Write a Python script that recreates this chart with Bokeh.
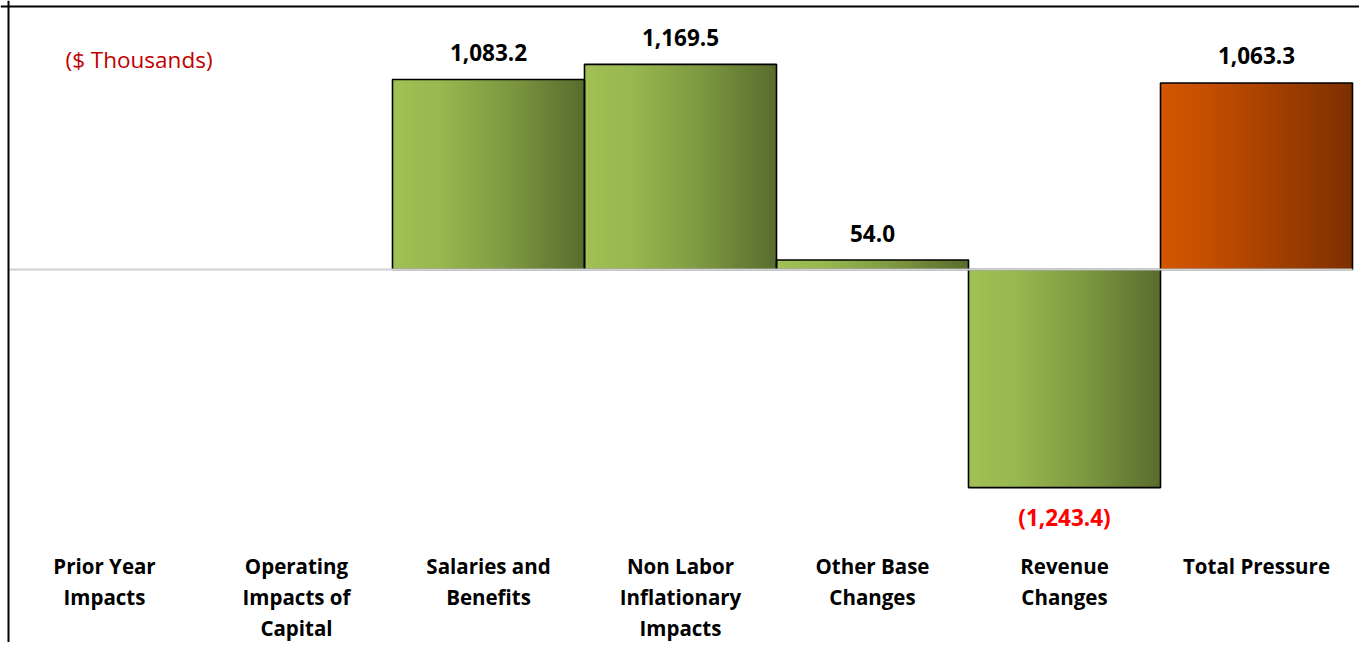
import numpy as np
from bokeh.plotting import figure
from bokeh.models import Range1d, Span, ColumnDataSource
from bokeh.core.properties import value
from bokeh.embed import file_html
from bokeh.resources import INLINE

# ---- data ----
categories = ["Prior Year Impacts", "Operating Impacts of Capital", "Salaries and Benefits",
              "Non Labor Inflationary Impacts", "Other Base Changes", "Revenue Changes",
              "Total Pressure"]
label_lines = [["Prior Year", "Impacts"],
               ["Operating", "Impacts of", "Capital"],
               ["Salaries and", "Benefits"],
               ["Non Labor", "Inflationary", "Impacts"],
               ["Other Base", "Changes"],
               ["Revenue", "Changes"],
               ["Total Pressure"]]
values = [0.0, 0.0, 1083.2, 1169.5, 54.0, -1243.4, 1063.3]
value_labels = ["", "", "1,083.2", "1,169.5", "54.0", "(1,243.4)", "1,063.3"]
is_total = [False, False, False, False, False, False, True]
unit_note = "($ Thousands)"

# ---- layout ----
W, H = 1359, 642
CAT_PX = 192.0
LEFT_PX = 8.0              # left edge of first category, px from frame left
ZERO_PX = 269.0            # zero line, px from top of frame
UNITS_PER_PX = 1083.2 / 190.0

y_top = ZERO_PX * UNITS_PER_PX
y_bot = -(H - ZERO_PX) * UNITS_PER_PX
x0 = -0.5 - LEFT_PX / CAT_PX
x1 = x0 + W / CAT_PX

p = figure(width=W, height=H, x_range=Range1d(x0, x1), y_range=Range1d(y_bot, y_top),
           output_backend="svg", toolbar_location=None, min_border=0,
           background_fill_color="white", border_fill_color="white")
p.xaxis.visible = False
p.yaxis.visible = False
p.xgrid.visible = False
p.ygrid.visible = False
p.outline_line_color = None

green_stops = [(0.0, (0xA1, 0xC1, 0x55)), (0.25, (0x98, 0xB8, 0x50)),
               (0.6, (0x7E, 0x99, 0x41)), (1.0, (0x58, 0x6C, 0x2D))]
orange_stops = [(0.0, (0xD4, 0x56, 0x00)), (0.25, (0xC4, 0x4E, 0x00)),
                (0.6, (0xA3, 0x40, 0x00)), (1.0, (0x7C, 0x30, 0x00))]


def interp(stops, t):
    for (t0, c0), (t1, c1) in zip(stops[:-1], stops[1:]):
        if t <= t1:
            f = (t - t0) / (t1 - t0)
            c = [int(round(a + (b - a) * f)) for a, b in zip(c0, c1)]
            return "#%02x%02x%02x" % tuple(c)
    return "#%02x%02x%02x" % stops[-1][1]


N = 60
L, R, B, T, C = [], [], [], [], []
for i, v in enumerate(values):
    if v == 0:
        continue
    stops = orange_stops if is_total[i] else green_stops
    for k in range(N):
        left = i - 0.5 + k / N
        right = min(left + 1.6 / N, i + 0.5)
        L.append(left); R.append(right)
        B.append(min(0, v)); T.append(max(0, v))
        C.append(interp(stops, (k + 0.5) / N))
p.quad(left=L, right=R, bottom=B, top=T, fill_color=C, line_color=None)

bars = [(i, v) for i, v in enumerate(values) if v != 0]
p.quad(left=[i - 0.5 for i, v in bars], right=[i + 0.5 for i, v in bars],
       bottom=[min(0, v) for i, v in bars], top=[max(0, v) for i, v in bars],
       fill_color=None, line_color="black", line_width=1.6)

# zero line
p.segment(x0=[-0.5], x1=[len(values) - 0.5], y0=[0], y1=[0],
          line_color="#D0D0D0", line_width=2)

# value labels
idx = [i for i in range(len(values)) if value_labels[i]]
lab_src = ColumnDataSource(dict(
    x=idx,
    y=[values[i] for i in idx],
    t=[value_labels[i] for i in idx],
    off=[-27 if values[i] >= 0 else 30 for i in idx],
    col=["black" if values[i] >= 0 else "#FF0000" for i in idx],
))
p.text(x="x", y="y", text="t", y_offset="off", text_color="col", source=lab_src,
       text_font=value("Open Sans"), text_font_style="bold", text_font_size="22.5px",
       text_align="center", text_baseline="middle")

# category labels
cx, cy, ct = [], [], []
for i, lines in enumerate(label_lines):
    for k, s in enumerate(lines):
        cx.append(i)
        cy.append(-(296 + 31 * k) * UNITS_PER_PX)
        ct.append(s)
p.text(x=cx, y=cy, text=ct, text_font=value("Open Sans"), text_font_style="bold",
       text_font_size="20.5px", text_color="black", text_align="center",
       text_baseline="middle")

# unit note
p.text(x=[-0.5 + 57 / CAT_PX], y=[(ZERO_PX - 59) * UNITS_PER_PX], text=[unit_note],
       text_font=value("Open Sans"), text_font_size="22.5px", text_color="#C00000",
       text_align="left", text_baseline="middle")

# chart border (left and top)
p.add_layout(Span(location=x0 + LEFT_PX / CAT_PX, dimension="height",
                  line_color="black", line_width=2))
p.add_layout(Span(location=(ZERO_PX - 6) * UNITS_PER_PX, dimension="width",
                  line_color="black", line_width=2))

open("out.html", "w").write(file_html(p, INLINE))
